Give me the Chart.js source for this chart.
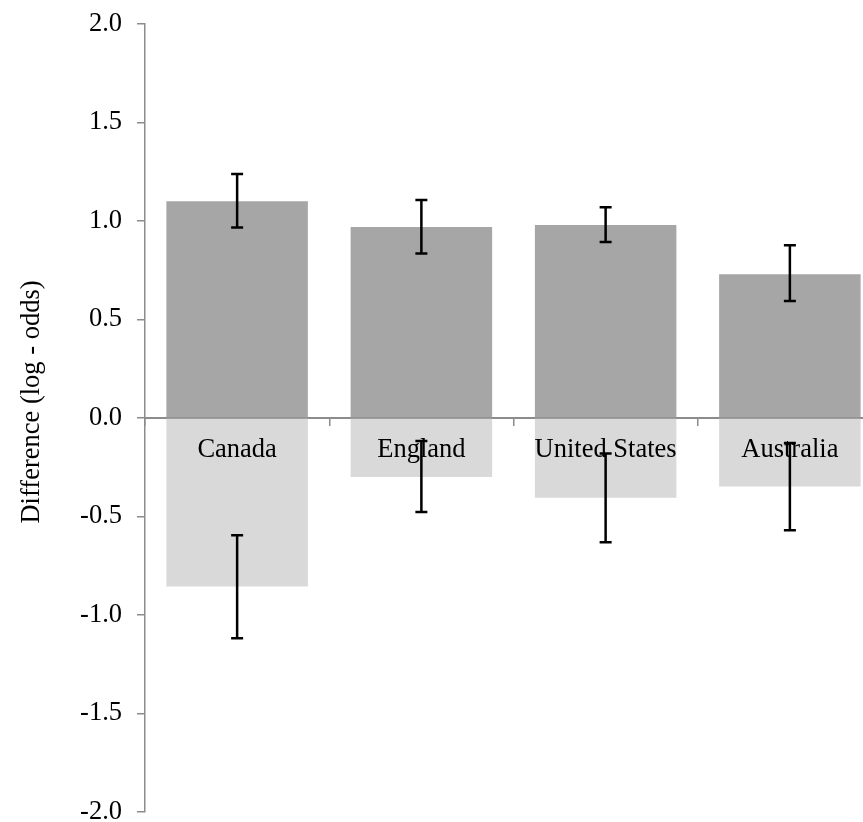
<!DOCTYPE html>
<html>
<head>
<meta charset="utf-8">
<script src="https://cdn.jsdelivr.net/npm/chart.js@4.4.1/dist/chart.umd.min.js"></script>
<style>
html, body { margin: 0; padding: 0; background: #fff; overflow: hidden; width: 863px; height: 822px; }
#wrap { width: 882px; height: 822px; }
</style>
</head>
<body>
<div id="wrap"><canvas id="c" width="882" height="822"></canvas></div>
<script>
const categories = ['Canada', 'England', 'United States', 'Australia'];
const positiveValues = [1.10, 0.97, 0.98, 0.73];
const negativeValues = [-0.855, -0.30, -0.405, -0.348];
const positiveErrLow = [0.967, 0.835, 0.894, 0.594];
const positiveErrHigh = [1.238, 1.106, 1.070, 0.877];
const negativeErrLow = [-1.118, -0.477, -0.631, -0.570];
const negativeErrHigh = [-0.595, -0.117, -0.180, -0.127];
const yTicks = [-2.0, -1.5, -1.0, -0.5, 0.0, 0.5, 1.0, 1.5, 2.0];
const yTitle = 'Difference (log - odds)';

const FONT = '"Liberation Serif", "Times New Roman", serif';
const FONT_SIZE = 26.5;
const AXIS_GRAY = '#8c8c8c';

const overlay = {
  id: 'overlay',
  afterDraw(chart) {
    const ctx = chart.ctx;
    const x = chart.scales.x, y = chart.scales.y;
    ctx.save();
    ctx.fillStyle = '#000';
    ctx.font = FONT_SIZE + 'px ' + FONT;
    ctx.textAlign = 'center';
    ctx.textBaseline = 'middle';
    const labelY = y.getPixelForValue(0) + 32;
    categories.forEach((c, i) => ctx.fillText(c, x.getPixelForValue(i), labelY));
    ctx.strokeStyle = '#000';
    ctx.lineWidth = 2.5;
    const cap = 6;
    const drawBar = (i, lo, hi) => {
      const px = x.getPixelForValue(i);
      const y1 = y.getPixelForValue(lo), y2 = y.getPixelForValue(hi);
      ctx.beginPath();
      ctx.moveTo(px, y1); ctx.lineTo(px, y2);
      ctx.moveTo(px - cap, y1); ctx.lineTo(px + cap, y1);
      ctx.moveTo(px - cap, y2); ctx.lineTo(px + cap, y2);
      ctx.stroke();
    };
    categories.forEach((c, i) => {
      drawBar(i, positiveErrLow[i], positiveErrHigh[i]);
      drawBar(i, negativeErrLow[i], negativeErrHigh[i]);
    });
    ctx.translate(32, 402);
    ctx.rotate(-Math.PI / 2);
    ctx.fillText(yTitle, 0, 0);
    ctx.restore();
  }
};

new Chart(document.getElementById('c'), {
  type: 'bar',
  data: {
    labels: categories,
    datasets: [
      { data: positiveValues, backgroundColor: '#a6a6a6', borderWidth: 0, barPercentage: 0.768, categoryPercentage: 1 },
      { data: negativeValues, backgroundColor: '#d9d9d9', borderWidth: 0, barPercentage: 0.768, categoryPercentage: 1 }
    ]
  },
  options: {
    responsive: false,
    animation: false,
    devicePixelRatio: 1,
    layout: { padding: { top: 24, bottom: 10, left: 0, right: 0 } },
    plugins: { legend: { display: false }, tooltip: { enabled: false } },
    scales: {
      x: {
        stacked: true,
        position: { y: 0 },
        z: 1,
        afterFit(s) { s.height = 0; s.paddingLeft = 0; s.paddingRight = 0; s.paddingTop = 0; s.paddingBottom = 0; },
        grid: { offset: true, drawOnChartArea: false, drawTicks: true, tickLength: 7, color: AXIS_GRAY, lineWidth: 1.5 },
        border: { display: true, color: AXIS_GRAY, width: 2 },
        ticks: { display: false }
      },
      y: {
        stacked: true,
        min: -2, max: 2,
        afterFit(s) { s.width = 145; s.paddingTop = 0; s.paddingBottom = 0; s.paddingLeft = 0; s.paddingRight = 0; },
        afterBuildTicks(s) { s.ticks = yTicks.map(v => ({ value: v })); },
        grid: { drawOnChartArea: false, drawTicks: true, tickLength: 8, color: AXIS_GRAY, lineWidth: 1.5 },
        border: { display: true, color: AXIS_GRAY, width: 1.5 },
        ticks: { font: { family: FONT, size: FONT_SIZE }, color: '#000', padding: 15, callback: v => Number(v).toFixed(1) }
      }
    }
  },
  plugins: [overlay]
});
</script>
</body>
</html>
